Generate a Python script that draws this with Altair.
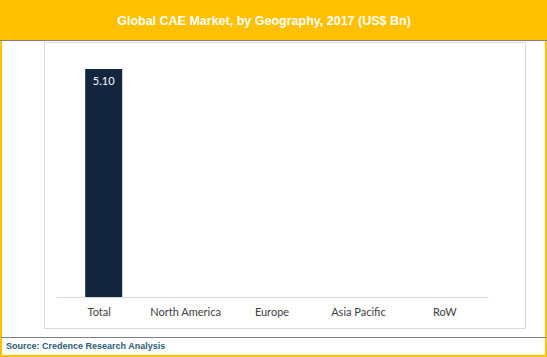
import altair as alt
import pandas as pd

categories = ["Total", "North America", "Europe", "Asia Pacific", "RoW"]
values = [5.10, None, None, None, None]
labels = ["5.10", "", "", "", ""]
title_text = "Global CAE Market, by Geography, 2017 (US$ Bn)"
source_text = "Source: Credence Research Analysis"

df = pd.DataFrame({"cat": categories, "val": values, "lab": labels})
one = pd.DataFrame({"k": [0]})

W, H = 432, 237
L, T = 56, 60

x = alt.X("cat:N", sort=categories, title=None,
          scale=alt.Scale(paddingInner=0, paddingOuter=0),
          axis=alt.Axis(labelAngle=0, ticks=False, domainColor="#d9d9d9",
                        labelColor="#404040", labelFont="Lato", labelFontSize=11,
                        labelPadding=9, grid=False))
y = alt.Y("val:Q", title=None, scale=alt.Scale(domain=[0, 5.3], nice=False, zero=True),
          axis=None)

band = alt.Chart(one).mark_rect(color="#FFC000").encode(
    x=alt.value(-L), x2=alt.value(547 - L), y=alt.value(-T), y2=alt.value(40 - T))
band_line = alt.Chart(one).mark_rule(color="#808080", strokeWidth=1).encode(
    x=alt.value(-L), x2=alt.value(547 - L), y=alt.value(40.5 - T))
frame = alt.Chart(one).mark_rect(fill=None, stroke="#FFC000", strokeWidth=2).encode(
    x=alt.value(1 - L), x2=alt.value(546 - L), y=alt.value(39 - T), y2=alt.value(356 - T))
inner = alt.Chart(one).mark_rect(fill=None, stroke="#d9d9d9", strokeWidth=1).encode(
    x=alt.value(44.5 - L), x2=alt.value(525.5 - L), y=alt.value(42.5 - T), y2=alt.value(328.5 - T))
bottom_line = alt.Chart(one).mark_rule(color="#808080", strokeWidth=1).encode(
    x=alt.value(1 - L), x2=alt.value(546 - L), y=alt.value(337.5 - T))
title = alt.Chart(one).mark_text(text=title_text, color="white", font="Liberation Sans",
                                 fontWeight="bold", fontSize=12.5, align="center",
                                 baseline="middle").encode(
    x=alt.value(264 - L), y=alt.value(21 - T))
source = alt.Chart(one).mark_text(text=source_text, color="#2B5B76", font="Liberation Sans",
                                  fontWeight="bold", fontSize=9, align="left",
                                  baseline="middle").encode(
    x=alt.value(6 - L), y=alt.value(346 - T))

bars = alt.Chart(df).mark_bar(color="#13263F", width=37, xOffset=4.5).encode(x=x, y=y)
text = alt.Chart(df).mark_text(color="white", font="Lato", fontSize=11, dy=13,
                               baseline="middle", xOffset=4.5).encode(
    x=x, y=y, text="lab:N")

chart = alt.layer(band, frame, band_line, inner, bottom_line, title, source, bars, text).properties(
    width=W, height=H,
    autosize=alt.AutoSizeParams(type="none"),
    padding={"left": L, "top": T, "right": 547 - L - W, "bottom": 357 - T - H},
    background="white",
).configure_view(stroke=None)

chart.save("out.html", embed_options={"renderer": "svg", "actions": False})
